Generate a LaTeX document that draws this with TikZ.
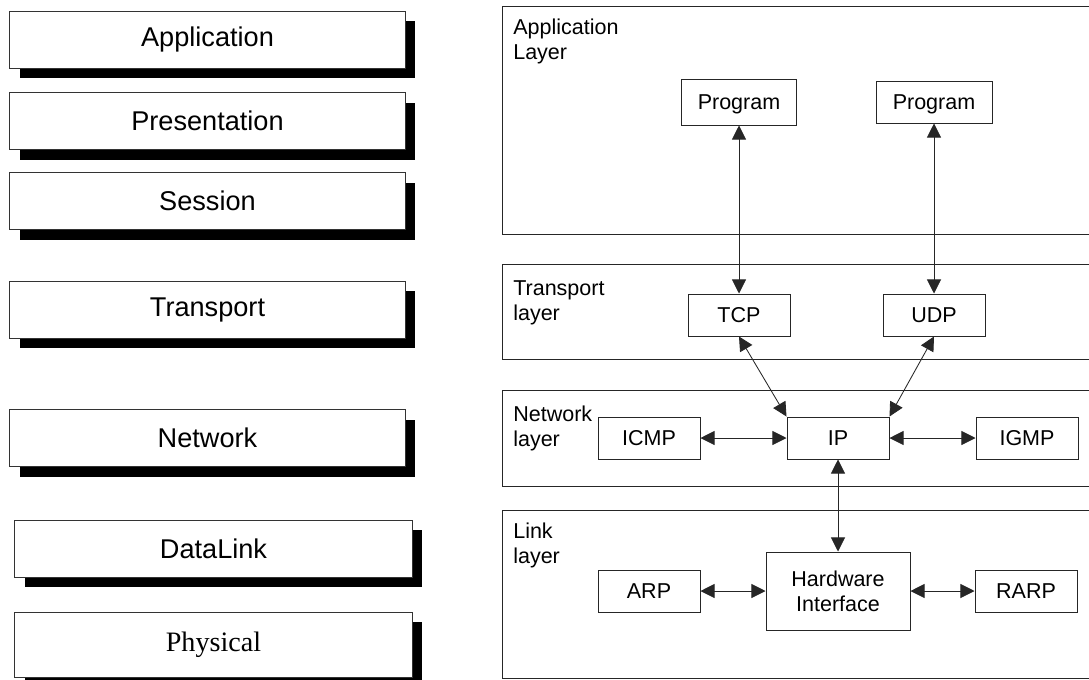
\documentclass[tikz,border=0pt]{standalone}
\usepackage{fontspec}
\setmainfont{Liberation Sans}
\newfontfamily\timesfont{Liberation Serif}
\usetikzlibrary{arrows.meta,shadows}

\begin{document}
\begin{tikzpicture}[x=0.025cm,y=-0.025cm,
    >={Triangle[length=10pt,width=10pt]},
    osi/.style={draw=black!80,line width=0.7pt,fill=white,minimum width=9.875cm,minimum height=1.425cm,inner sep=0pt,
        general shadow={fill=black,shadow xshift=0.25cm,shadow yshift=-0.25cm},
        font=\fontsize{19.3}{23}\selectfont},
    capa/.style={draw=black!85,line width=0.7pt},
    capatxt/.style={anchor=north west,inner sep=0pt,align=left,font=\fontsize{15.3}{17.8}\selectfont},
    prot/.style={draw=black!85,line width=0.7pt,fill=white,minimum width=2.55cm,minimum height=1.05cm,inner sep=0pt,
        text depth=0pt,font=\fontsize{15.3}{17.8}\selectfont},
    flecha/.style={<->,black!85,line width=0.6pt}]

    \fill[white] (0,0) rectangle (1089,679);
    \useasboundingbox (0,0) rectangle (1089,679);

    %modelo OSI
    \foreach \n/\y/\lab in {app/39.5/Application,pres/121/Presentation,ses/201/Session,trans/309.5/Transport,net/438/Network}
        \node[osi] (\n) at (207.5,\y) {\lab};
    \node[osi,minimum width=9.925cm] (dl) at (213.5,548.5) {DataLink};
    \node[osi,minimum width=9.925cm,minimum height=1.625cm,font=\timesfont\fontsize{20}{24}\selectfont] (phys) at (213.5,644.5) {Physical};

    %capas TCP/IP
    \draw[capa] (502,6) rectangle (1095,234);
    \draw[capa] (502,264) rectangle (1095,359);
    \draw[capa] (502,390) rectangle (1095,486);
    \draw[capa] (502,510) rectangle (1095,678);
    \node[capatxt] (lapp) at (513,19) {Application\\Layer};
    \node[capatxt] (ltrans) at (513,280) {Transport\\layer};
    \node[capatxt] (lnet) at (513,406) {Network\\layer};
    \node[capatxt] (llink) at (513,523) {Link\\layer};

    %protocolos
    \node[prot,minimum width=2.88cm,minimum height=1.15cm] (prog1) at (739,102) {Program};
    \node[prot,minimum width=2.9cm,minimum height=1.05cm] (prog2) at (934,102) {Program};
    \node[prot] (tcp) at (739,315) {TCP};
    \node[prot] (udp) at (934,315) {UDP};
    \node[prot] (icmp) at (649,438) {ICMP};
    \node[prot] (ip) at (838,438) {IP};
    \node[prot] (igmp) at (1027,438) {IGMP};
    \node[prot] (arp) at (649,591) {ARP};
    \node[prot,minimum width=3.6cm,minimum height=1.95cm,align=center] (hw) at (838,591) {Hardware\\Interface};
    \node[prot] (rarp) at (1026,591) {RARP};

    %flechas
    \draw[flecha] (prog1) -- (tcp);
    \draw[flecha] (prog2) -- (udp);
    \draw[flecha] (tcp.south) -- (ip.north west);
    \draw[flecha] (udp.south) -- (ip.north east);
    \draw[flecha] (icmp) -- (ip);
    \draw[flecha] (ip) -- (igmp);
    \draw[flecha] (ip) -- (hw);
    \draw[flecha] (arp) -- (hw);
    \draw[flecha] (hw) -- (rarp);
\end{tikzpicture}
\end{document}
